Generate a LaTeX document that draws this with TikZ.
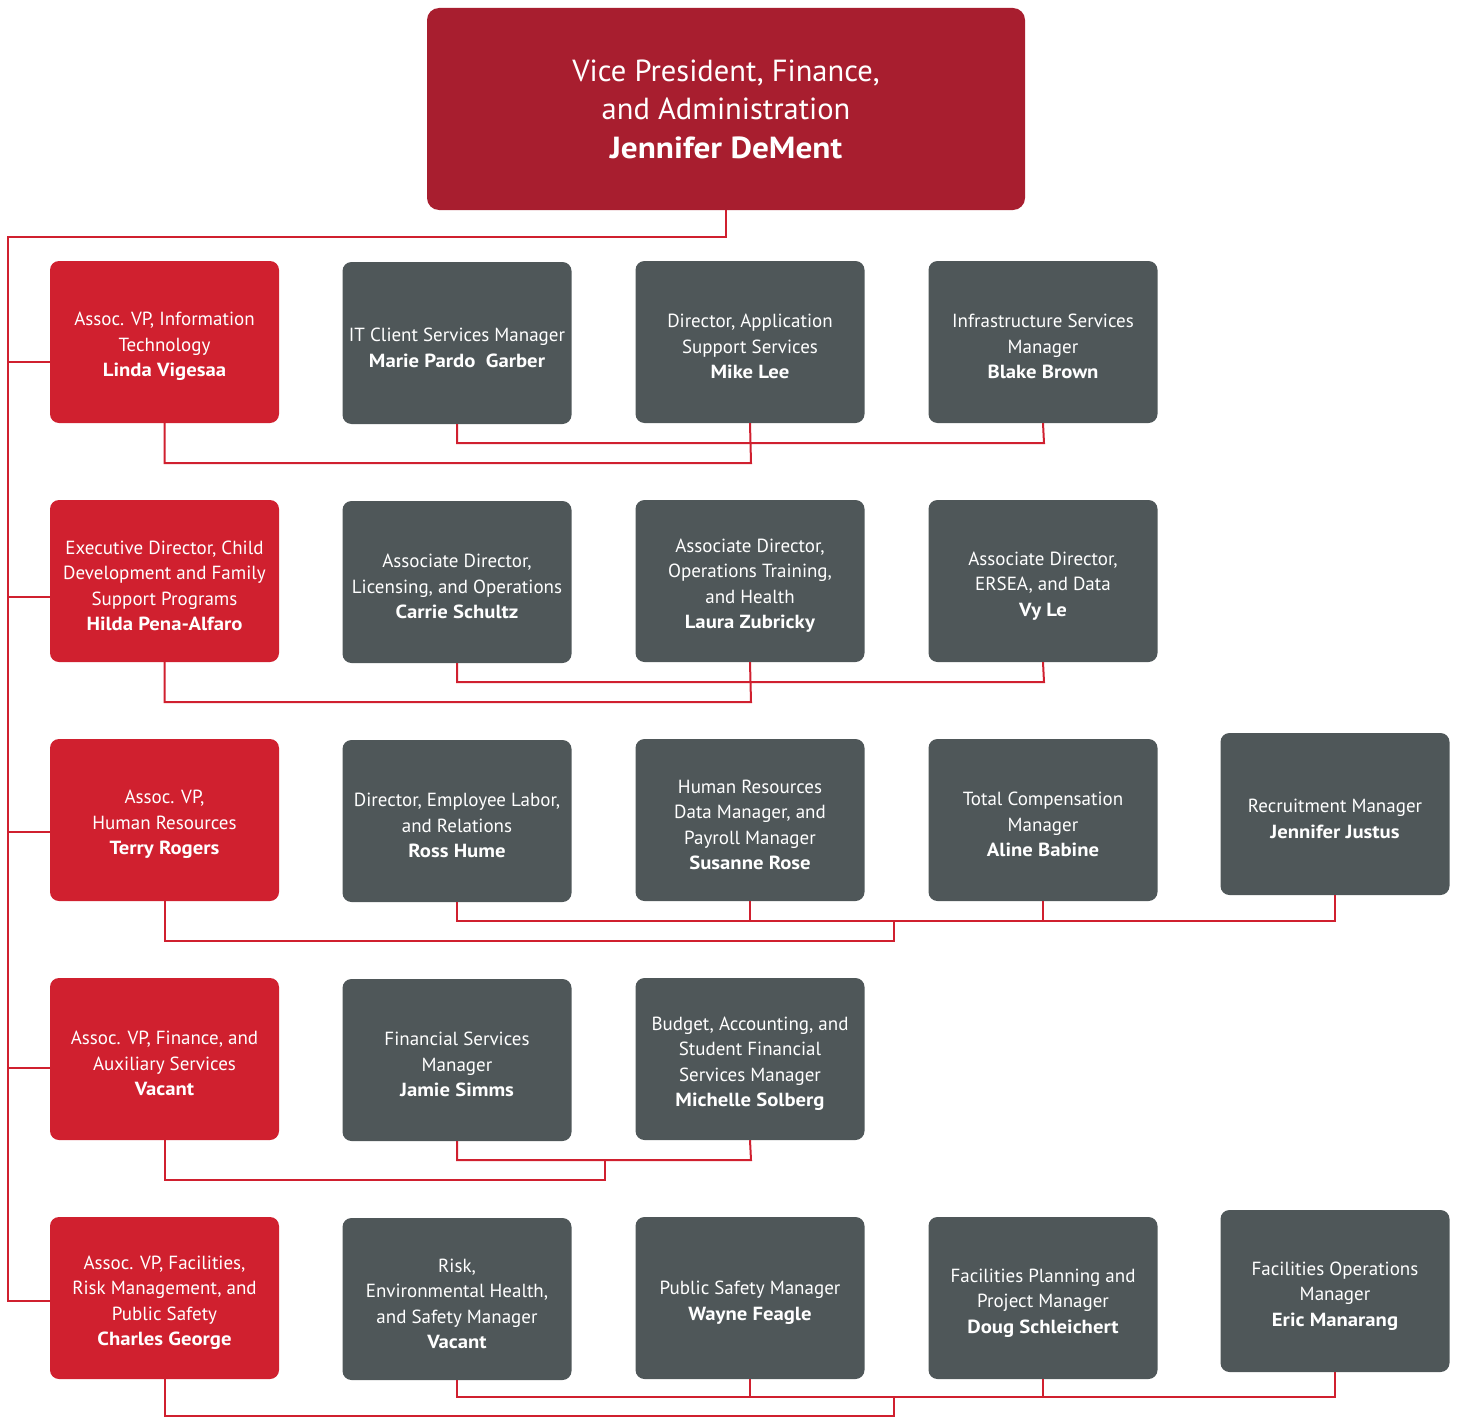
\documentclass[tikz,border=0pt]{standalone}
\usepackage{fontspec}
\setmainfont{PT Sans}[BoldFeatures={FakeStretch=1.09}]
\definecolor{vpred}{HTML}{A81E2F}
\definecolor{boxred}{HTML}{D0202F}
\definecolor{boxgray}{HTML}{4F5759}
\definecolor{linered}{HTML}{D0202F}
\newcommand{\topstrut}{\rule{0pt}{23pt}}
\begin{document}
\begin{tikzpicture}[x=1pt,y=-1pt,
  box/.style={rounded corners=9pt, minimum width=229pt, minimum height=162pt, inner sep=0pt,
    text=white, align=center, font=\fontsize{19}{25.5}\selectfont},
  redbox/.style={box, fill=boxred},
  graybox/.style={box, fill=boxgray},
  conn/.style={draw=linered, line width=2pt}]
\useasboundingbox (0,0) rectangle (1459,1418);
% top
\node[fill=vpred, rounded corners=12pt, minimum width=598pt, minimum height=202pt, text=white, align=center,
  font=\fontsize{30.5}{38.5}\selectfont] (vp) at (726,109) {Vice President, Finance,\\ and Administration\\ \textbf{Jennifer DeMent}};
% row 1
\node[redbox] (r1) at (164.5,342) {\topstrut Assoc. VP, Information\\ Technology\\ \textbf{Linda Vigesaa}};
\node[graybox] (g11) at (457,343) {\topstrut IT Client Services Manager\\ \textbf{Marie Pardo\ \ Garber}};
\node[graybox] (g12) at (750,342) {\topstrut Director, Application\\ Support Services\\ \textbf{Mike Lee}};
\node[graybox] (g13) at (1043,342) {\topstrut Infrastructure Services\\ Manager\\ \textbf{Blake Brown}};
% row 2
\node[redbox] (r2) at (164.5,581) {\topstrut Executive Director, Child\\ Development and Family\\ Support Programs\\ \textbf{Hilda Pena-Alfaro}};
\node[graybox] (g21) at (457,582) {\topstrut Associate Director,\\ Licensing, and Operations\\ \textbf{Carrie Schultz}};
\node[graybox] (g22) at (750,581) {\topstrut Associate Director,\\ Operations Training,\\ and Health\\ \textbf{Laura Zubricky}};
\node[graybox] (g23) at (1043,581) {\topstrut Associate Director,\\ ERSEA, and Data\\ \textbf{Vy Le}};
% row 3
\node[redbox] (r3) at (164.5,820) {\topstrut Assoc. VP,\\ Human Resources\\ \textbf{Terry Rogers}};
\node[graybox] (g31) at (457,821) {\topstrut Director, Employee Labor,\\ and Relations\\ \textbf{Ross Hume}};
\node[graybox] (g32) at (750,820) {\topstrut Human Resources\\ Data Manager, and\\ Payroll Manager\\ \textbf{Susanne Rose}};
\node[graybox] (g33) at (1043,820) {\topstrut Total Compensation\\ Manager\\ \textbf{Aline Babine}};
\node[graybox] (g34) at (1335,814) {\topstrut Recruitment Manager\\ \textbf{Jennifer Justus}};
% row 4
\node[redbox] (r4) at (164.5,1059) {\topstrut Assoc. VP, Finance, and\\ Auxiliary Services\\ \textbf{Vacant}};
\node[graybox] (g41) at (457,1060) {\topstrut Financial Services\\ Manager\\ \textbf{Jamie Simms}};
\node[graybox] (g42) at (750,1059) {\topstrut Budget, Accounting, and\\ Student Financial\\ Services Manager\\ \textbf{Michelle Solberg}};
% row 5
\node[redbox] (r5) at (164.5,1298) {\topstrut Assoc. VP, Facilities,\\ Risk Management, and\\ Public Safety\\ \textbf{Charles George}};
\node[graybox] (g51) at (457,1299) {\topstrut Risk,\\ Environmental Health,\\ and Safety Manager\\ \textbf{Vacant}};
\node[graybox] (g52) at (750,1298) {\topstrut Public Safety Manager\\ \textbf{Wayne Feagle}};
\node[graybox] (g53) at (1043,1298) {\topstrut Facilities Planning and\\ Project Manager\\ \textbf{Doug Schleichert}};
\node[graybox] (g54) at (1335,1291) {\topstrut Facilities Operations\\ Manager\\ \textbf{Eric Manarang}};
% coordinates
\coordinate (t0) at (8,237);
\coordinate (b1) at (50,362);
\coordinate (b2) at (50,597);
\coordinate (b3) at (50,832);
\coordinate (b4) at (50,1068);
\coordinate (b5) at (50,1301);
\coordinate (j1) at (751,463);
\coordinate (u1) at (1044,443);
\coordinate (j2) at (751,702);
\coordinate (u2) at (1044,682);
\coordinate (j3) at (894,941);
\coordinate (k3) at (894,921);
\coordinate (u3) at (1335,921);
\coordinate (j4) at (605,1180);
\coordinate (k4) at (605,1160);
\coordinate (u4) at (751,1160);
\coordinate (j5) at (894,1416);
\coordinate (k5) at (894,1397);
\coordinate (u5) at (1335,1397);
% trunk
\draw[conn] (vp.south) |- (t0) |- (b5);
\draw[conn] (t0 |- b1) -- (b1);
\draw[conn] (t0 |- b2) -- (b2);
\draw[conn] (t0 |- b3) -- (b3);
\draw[conn] (t0 |- b4) -- (b4);
% row 1
\draw[conn] (r1.south) |- (j1) -- (g12.south);
\draw[conn] (g11.south) |- (u1) -- (g13.south);
% row 2
\draw[conn] (r2.south) |- (j2) -- (g22.south);
\draw[conn] (g21.south) |- (u2) -- (g23.south);
% row 3
\draw[conn] (r3.south) |- (j3) -- (k3);
\draw[conn] (g31.south) |- (u3) -- (g34.south);
\draw[conn] (g32.south) -- (g32.south |- u3);
\draw[conn] (g33.south) -- (g33.south |- u3);
% row 4
\draw[conn] (r4.south) |- (j4) -- (k4);
\draw[conn] (g41.south) |- (u4) -- (g42.south);
% row 5
\draw[conn] (r5.south) |- (j5) -- (k5);
\draw[conn] (g51.south) |- (u5) -- (g54.south);
\draw[conn] (g52.south) -- (g52.south |- u5);
\draw[conn] (g53.south) -- (g53.south |- u5);
\end{tikzpicture}
\end{document}
